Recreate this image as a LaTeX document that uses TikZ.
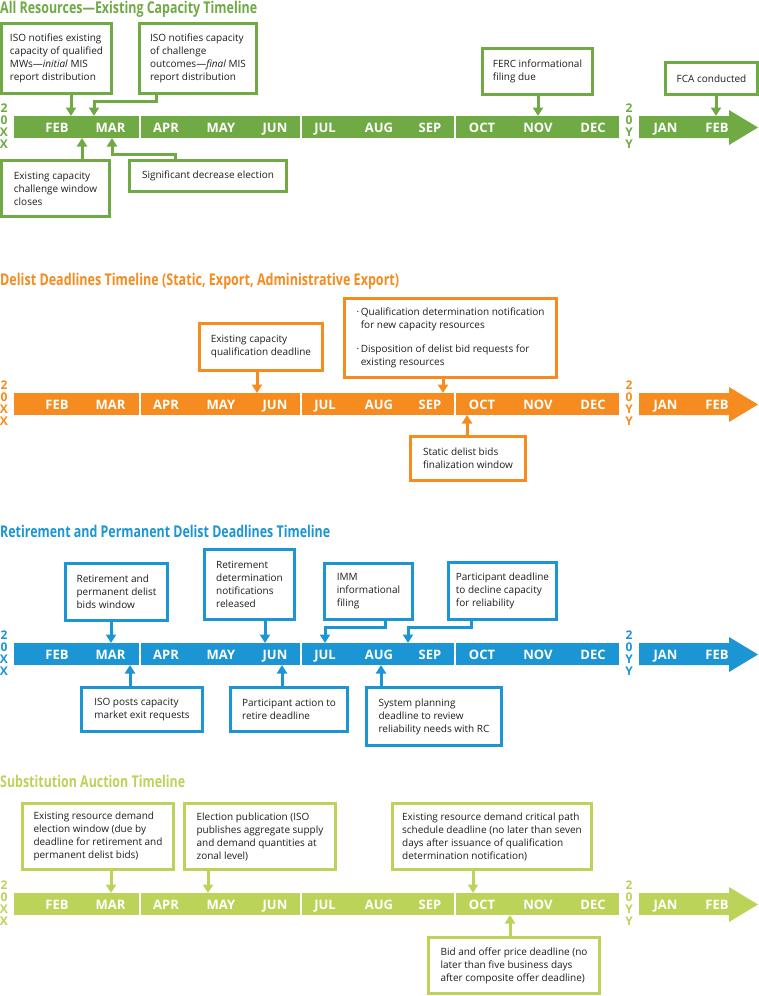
\documentclass[tikz,border=0pt]{standalone}
\usepackage{fontspec}
\usepackage{graphicx}
\setmainfont{Open Sans}
\usetikzlibrary{arrows.meta}
\definecolor{cg}{HTML}{6FAA45}
\definecolor{co}{HTML}{F68B1F}
\definecolor{cb}{HTML}{1B95D3}
\definecolor{cl}{HTML}{BCD35A}
\definecolor{txt}{HTML}{1E1E1E}
\newcommand\mybox[7]{%
  \node[box=#2, minimum width={#5-#3-3}, minimum height={#6-#4-3}] (#1) at ({(#3+#5)/2},{(#4+#6)/2}) {#7};}
\newcommand\tbar[3]{%
  \fill[#1] (14,#2) rectangle (139,#2+22);
  \fill[#1] (141,#2) rectangle (300,#2+22);
  \fill[#1] (302,#2) rectangle (453.5,#2+22);
  \fill[#1] (456,#2) rectangle (619,#2+22);
  \fill[#1] (639,#2) -- (729,#2) -- (729,#2-6) -- (758,#2+11.5) -- (729,#2+29) -- (729,#2+22) -- (639,#2+22) -- cycle;
  \foreach \m/\x [count=\i] in {FEB/57,MAR/110.5,APR/166,MAY/221,JUN/275,JUL/325,AUG/379,SEP/430,OCT/482,NOV/538,DEC/593,JAN/665.5,FEB/717}
    \node[month] (m#3-\i) at (\x,#2+16.3) {\m};
  \node[yr=#1] (yl#3) at (4,#2+10.3) {2\\0\\X\\X};
  \node[yr=#1] (yr#3) at (629,#2+10.3) {2\\0\\Y\\Y};
}
\begin{document}
\begin{tikzpicture}[x=1pt,y=-1pt,
  box/.style={draw=#1, line width=3pt, fill=white, align=left, inner sep=0pt,
    text=txt, font=\fontsize{10}{13}\selectfont},
  month/.style={anchor=base, inner sep=0pt, text=white, font=\bfseries\fontsize{13}{13}\selectfont},
  yr/.style={inner sep=0pt, align=center, text=#1, font=\bfseries\fontsize{12}{11.8}\selectfont},
  ttl/.style={anchor=base west, inner sep=0pt, text=#1},
  conn/.style={draw=#1, line width=3pt, -{Triangle[length=8.5pt,width=10pt]}}]
\useasboundingbox (0,0) rectangle (759,996);

% ---------- titles
\node[ttl=cg] (t1) at (0,13.3) {\resizebox{257pt}{12.3pt}{\bfseries All Resources—Existing Capacity Timeline}};
\node[ttl=co] (t2) at (0,285) {\resizebox{399pt}{12.3pt}{\bfseries Delist Deadlines Timeline (Static, Export, Administrative Export)}};
\node[ttl=cb] (t3) at (0,537.7) {\resizebox{330pt}{12.3pt}{\bfseries Retirement and Permanent Delist Deadlines Timeline}};
\node[ttl=cl] (t4) at (0,787.7) {\resizebox{185pt}{12.3pt}{\bfseries Substitution Auction Timeline}};

% ---------- bars
\tbar{cg}{116}{a}
\tbar{co}{393}{b}
\tbar{cb}{643}{c}
\tbar{cl}{893}{d}

% ---------- timeline 1 boxes
\mybox{A}{cg}{0}{22}{113}{95}{ISO notifies existing\\capacity of qualified\\MWs—\textit{initial} MIS\\report distribution}
\mybox{B}{cg}{138}{22}{258}{95}{ISO notifies capacity\\of challenge\\outcomes—\textit{final} MIS\\report distribution}
\mybox{C}{cg}{0}{159}{111}{218}{Existing capacity\\challenge window\\closes}
\mybox{D}{cg}{128}{159}{288}{193}{Significant decrease election}
\mybox{E}{cg}{481}{47}{594}{96}{FERC informational\\filing due}
\mybox{F}{cg}{664}{61}{759}{96}{FCA conducted}

% ---------- timeline 2 boxes
\mybox{G}{co}{198}{322}{324}{372}{Existing capacity\\qualification deadline}
\mybox{H}{co}{343}{297}{558}{379}{·\,Qualification determination notification\\\phantom{·\,}for new capacity resources\\[11pt]·\,Disposition of delist bid requests for\\\phantom{·\,}existing resources}
\mybox{I}{co}{409}{435}{527}{482}{Static delist bids\\finalization window}

% ---------- timeline 3 boxes
\mybox{J}{cb}{64}{562}{169}{622}{Retirement and\\permanent delist\\bids window}
\mybox{K}{cb}{203}{548}{296}{621}{Retirement\\determination\\notifications\\released}
\mybox{L}{cb}{323}{562}{414}{621}{IMM\\informational\\filing}
\mybox{M}{cb}{447}{561}{558}{621}{Participant deadline\\to decline capacity\\for reliability}
\mybox{N}{cb}{80}{686}{204}{733}{ISO posts capacity\\market exit requests}
\mybox{O}{cb}{229}{686}{349}{733}{Participant action to\\retire deadline}
\mybox{P}{cb}{365}{686}{503}{747}{System planning\\deadline to review\\reliability needs with RC}

% ---------- timeline 4 boxes
\mybox{Q}{cl}{21}{802}{175}{871}{Existing resource demand\\election window (due by\\deadline for retirement and\\permanent delist bids)}
\mybox{R}{cl}{183}{802}{337}{871}{Election publication (ISO\\publishes aggregate supply\\and demand quantities at\\zonal level)}
\mybox{S}{cl}{391}{802}{593}{871}{Existing resource demand critical path\\schedule deadline (no later than seven\\days after issuance of qualification\\determination notification)}
\mybox{T}{cl}{427}{936}{601}{995}{Bid and offer price deadline (no\\later than five business days\\after composite offer deadline)}

% ---------- connectors timeline 1
\coordinate (p1a) at (71,116);
\draw[conn=cg] (A.south -| p1a) -- (p1a);
\coordinate (k1b) at (156,101); \coordinate (p1b) at (94,116);
\draw[conn=cg] (B.south -| k1b) -- (k1b) -| (p1b);
\coordinate (p1c) at (82,138);
\draw[conn=cg] (C.north -| p1c) -- (p1c);
\coordinate (k1d) at (175,154); \coordinate (p1d) at (112,138);
\draw[conn=cg] (D.north -| k1d) -- (k1d) -| (p1d);
\coordinate (p1e) at (538,116);
\draw[conn=cg] (E.south -| p1e) -- (p1e);
\coordinate (p1f) at (716,116);
\draw[conn=cg] (F.south -| p1f) -- (p1f);

% ---------- connectors timeline 2
\coordinate (p2g) at (257,393);
\draw[conn=co] (G.south -| p2g) -- (p2g);
\coordinate (p2h) at (443,393);
\draw[conn=co] (H.south -| p2h) -- (p2h);
\coordinate (p2i) at (467,415);
\draw[conn=co] (I.north -| p2i) -- (p2i);

% ---------- connectors timeline 3
\coordinate (p3j) at (111,643);
\draw[conn=cb] (J.south -| p3j) -- (p3j);
\coordinate (p3k) at (265,643);
\draw[conn=cb] (K.south -| p3k) -- (p3k);
\coordinate (k3l) at (385,627); \coordinate (p3l) at (325,643);
\draw[conn=cb] (L.south -| k3l) -- (k3l) -| (p3l);
\coordinate (k3m) at (471,627); \coordinate (p3m) at (408,643);
\draw[conn=cb] (M.south -| k3m) -- (k3m) -| (p3m);
\coordinate (p3n) at (130,665);
\draw[conn=cb] (N.north -| p3n) -- (p3n);
\coordinate (p3o) at (282,665);
\draw[conn=cb] (O.north -| p3o) -- (p3o);
\coordinate (p3p) at (381,665);
\draw[conn=cb] (P.north -| p3p) -- (p3p);

% ---------- connectors timeline 4
\coordinate (p4q) at (111,893);
\draw[conn=cl] (Q.south -| p4q) -- (p4q);
\coordinate (p4r) at (208,893);
\draw[conn=cl] (R.south -| p4r) -- (p4r);
\coordinate (p4s) at (473,893);
\draw[conn=cl] (S.south -| p4s) -- (p4s);
\coordinate (p4t) at (510,915);
\draw[conn=cl] (T.north -| p4t) -- (p4t);
\end{tikzpicture}
\end{document}
